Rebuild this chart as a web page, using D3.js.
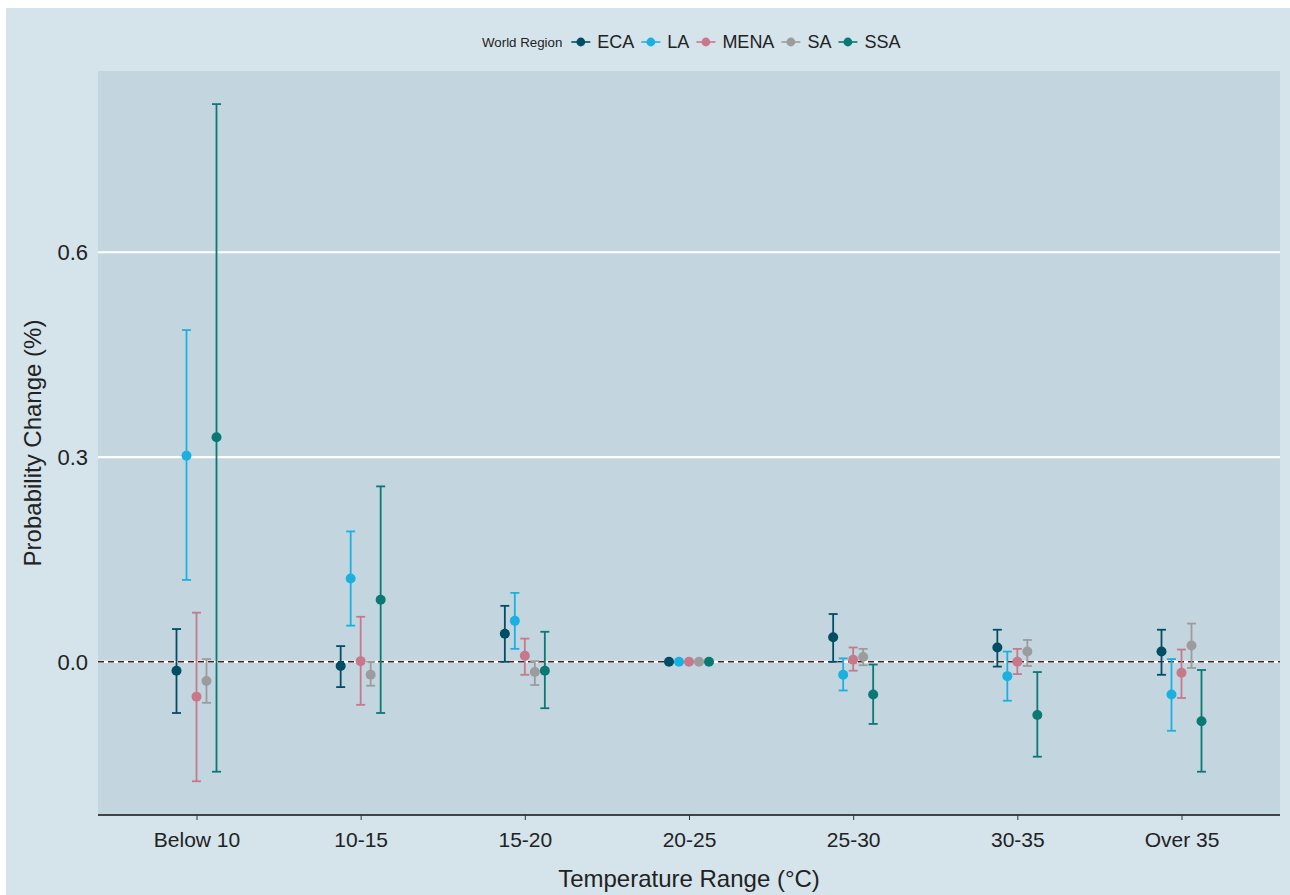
<!DOCTYPE html>
<html>
<head>
<meta charset="utf-8">
<script src="https://cdn.jsdelivr.net/npm/d3@7"></script>
<style>
  body { margin: 0; background: #fff; }
  svg { display: block; font-family: "Liberation Sans", Arial, sans-serif; }
</style>
</head>
<body>
<div id="chart"></div>
<script>
// categories and series
const ranges = ['Below 10', '10-15', '15-20', '20-25', '25-30', '30-35', 'Over 35'];
const regions = ['ECA', 'LA', 'MENA', 'SA', 'SSA'];
const regionColors = ['#014d64', '#1ab0e0', '#c7788a', '#9c9c9c', '#0a7873'];

// point estimates per region, one value per temperature range
const estECA  = [-0.013, -0.006, 0.041, 0, 0.036, 0.021, 0.015];
const estLA   = [0.302, 0.122, 0.060, 0, -0.019, -0.021, -0.048];
const estMENA = [-0.051, 0.001, 0.009, 0, 0.003, 0.000, -0.016];
const estSA   = [-0.028, -0.019, -0.015, 0, 0.007, 0.015, 0.024];
const estSSA  = [0.329, 0.091, -0.013, 0, -0.048, -0.078, -0.087];

// confidence bounds
const loECA  = [-0.075, -0.037, 0.000, 0, 0.000, -0.007, -0.019];
const hiECA  = [0.048, 0.023, 0.082, 0, 0.070, 0.047, 0.047];
const loLA   = [0.120, 0.053, 0.019, 0, -0.042, -0.057, -0.101];
const hiLA   = [0.486, 0.191, 0.101, 0, 0.005, 0.015, 0.004];
const loMENA = [-0.175, -0.063, -0.019, 0, -0.013, -0.018, -0.053];
const hiMENA = [0.072, 0.066, 0.034, 0, 0.021, 0.019, 0.018];
const loSA   = [-0.060, -0.035, -0.034, 0, -0.005, -0.006, -0.009];
const hiSA   = [0.004, 0.000, 0.001, 0, 0.019, 0.032, 0.056];
const loSSA  = [-0.161, -0.075, -0.068, 0, -0.091, -0.139, -0.161];
const hiSSA  = [0.817, 0.257, 0.044, 0, -0.004, -0.015, -0.012];

const yTicks = [0, 0.3, 0.6];

const est = [estECA, estLA, estMENA, estSA, estSSA];
const lo = [loECA, loLA, loMENA, loSA, loSSA];
const hi = [hiECA, hiLA, hiMENA, hiSA, hiSSA];

const rows = [];
regions.forEach((r, i) => ranges.forEach((c, j) => {
  rows.push({region: r, idx: i, range: c, v: est[i][j], lo: lo[i][j], hi: hi[i][j]});
}));

const W = 1290, H = 895;
const panel = {left: 98, right: 1280, top: 71, bottom: 815};

const svg = d3.select('#chart').append('svg').attr('width', W).attr('height', H);

svg.append('rect').attr('x', 6).attr('y', 8).attr('width', W - 6).attr('height', H - 8)
  .attr('fill', '#d5e4eb');
svg.append('rect').attr('x', panel.left).attr('y', panel.top)
  .attr('width', panel.right - panel.left).attr('height', panel.bottom - panel.top)
  .attr('fill', '#c3d6df');

// ggplot-like discrete scale: 0.6 units expansion each side
const x = d3.scalePoint().domain(ranges)
  .range([panel.left, panel.right]).padding(0.6);
const dodge = d3.scalePoint().domain(regions).range([-20, 20]);
const y = d3.scaleLinear().domain([-0.2244, 0.8655]).range([panel.bottom, panel.top]);

// grid lines
svg.append('g').selectAll('line').data(yTicks).join('line')
  .attr('x1', panel.left).attr('x2', panel.right)
  .attr('y1', d => y(d)).attr('y2', d => y(d))
  .attr('stroke', '#fff').attr('stroke-width', 2.2);

// dashed reference line at zero
svg.append('line')
  .attr('x1', panel.left).attr('x2', panel.right)
  .attr('y1', y(0)).attr('y2', y(0))
  .attr('stroke', '#4a1e2a').attr('stroke-width', 1.4)
  .attr('stroke-dasharray', '6,4');

// y axis labels
svg.append('g').selectAll('text').data(yTicks).join('text')
  .attr('x', 88).attr('y', d => y(d)).attr('dy', '0.36em')
  .attr('text-anchor', 'end').attr('font-size', 22).attr('fill', '#222')
  .text(d3.format('.1f'));

// x axis
const xAxis = svg.append('g').attr('transform', `translate(0,${panel.bottom})`)
  .call(d3.axisBottom(x).tickSize(5).tickPadding(12).tickSizeOuter(0));
xAxis.select('.domain').attr('d', `M${panel.left},0H${panel.right}`)
  .attr('stroke', '#111').attr('stroke-width', 1.3);
xAxis.selectAll('.tick line').attr('stroke', '#333');
xAxis.selectAll('.tick text').attr('font-size', 21).attr('fill', '#222')
  .attr('font-family', '"Liberation Sans", Arial, sans-serif');

// axis titles
svg.append('text').attr('x', (panel.left + panel.right) / 2).attr('y', 887)
  .attr('text-anchor', 'middle').attr('font-size', 24).attr('fill', '#222')
  .text('Temperature Range (°C)');
svg.append('text')
  .attr('transform', `translate(41,${(panel.top + panel.bottom) / 2}) rotate(-90)`)
  .attr('text-anchor', 'middle').attr('font-size', 24).attr('fill', '#222')
  .text('Probability Change (%)');

// error bars
const bars = svg.append('g').selectAll('g').data(rows).join('g')
  .attr('stroke', d => regionColors[d.idx]).attr('stroke-width', 1.8);
const cx = d => x(d.range) + dodge(d.region);
bars.append('line').attr('x1', cx).attr('x2', cx)
  .attr('y1', d => y(d.lo)).attr('y2', d => y(d.hi));
bars.append('line').attr('x1', d => cx(d) - 4.5).attr('x2', d => cx(d) + 4.5)
  .attr('y1', d => y(d.lo)).attr('y2', d => y(d.lo));
bars.append('line').attr('x1', d => cx(d) - 4.5).attr('x2', d => cx(d) + 4.5)
  .attr('y1', d => y(d.hi)).attr('y2', d => y(d.hi));

// points
svg.append('g').selectAll('circle').data(rows).join('circle')
  .attr('cx', cx).attr('cy', d => y(d.v)).attr('r', 5)
  .attr('fill', d => regionColors[d.idx]);

// legend
const legend = svg.append('g').attr('transform', 'translate(482,42)');
const title = legend.append('text').attr('x', 0).attr('dy', '0.35em')
  .attr('font-size', 13.3).attr('fill', '#222').text('World Region');
let lx = title.node().getComputedTextLength() + 9;
regions.forEach((r, i) => {
  const g = legend.append('g').attr('transform', `translate(${lx},0)`);
  g.append('line').attr('x1', 0).attr('x2', 19).attr('y1', 0).attr('y2', 0)
    .attr('stroke', regionColors[i]).attr('stroke-width', 1.6);
  g.append('circle').attr('cx', 9.5).attr('cy', 0).attr('r', 4.4).attr('fill', regionColors[i]);
  const t = g.append('text').attr('x', 26).attr('dy', '0.35em')
    .attr('font-size', 18).attr('fill', '#222').text(r);
  lx += 26 + t.node().getComputedTextLength() + 7;
});
</script>
</body>
</html>
